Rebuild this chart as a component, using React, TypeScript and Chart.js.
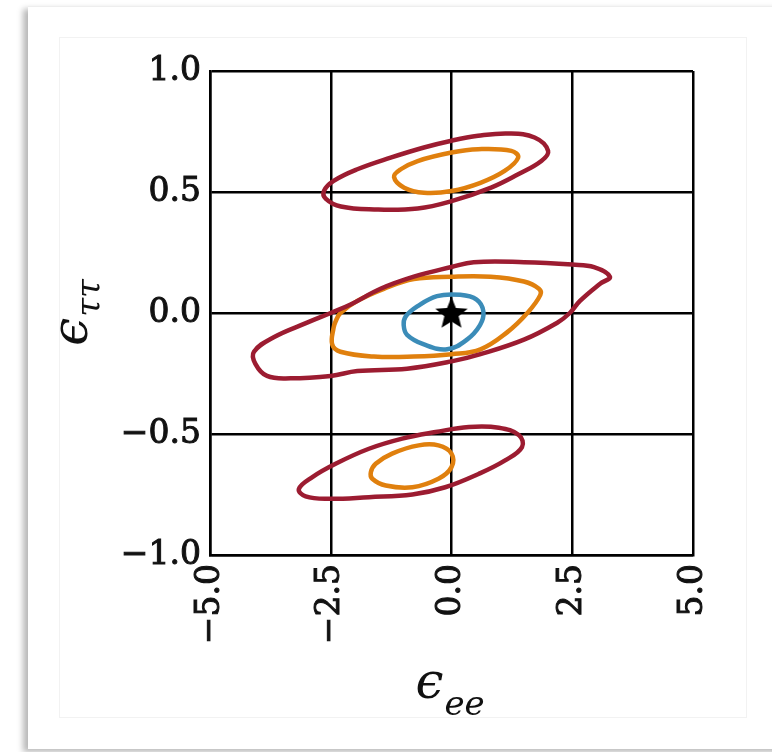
import React, { useEffect, useRef } from 'react';
import { Chart, registerables } from 'chart.js';

Chart.register(...registerables);

// Axis ticks
const xTicks = [-5, -2.5, 0, 2.5, 5];
const yTicks = [-1, -0.5, 0, 0.5, 1];

// Upper island (eps_tautau ~ +0.6)
const redTopX = [-2.64, -2.44, -1.95, -1.26, -0.57, 0.0, 0.55, 1.17, 1.72, 2.0, 1.86, 1.38, 0.82, 0.0, -0.7, -1.6, -2.29, -2.6];
const redTopY = [0.505, 0.546, 0.594, 0.642, 0.684, 0.712, 0.732, 0.742, 0.725, 0.67, 0.628, 0.573, 0.518, 0.462, 0.432, 0.428, 0.44, 0.472];
const orangeTopX = [-1.19, -1.05, -0.7, 0.0, 0.55, 1.24, 1.38, 1.1, 0.6, 0.0, -0.57, -0.98];
const orangeTopY = [0.562, 0.594, 0.628, 0.663, 0.677, 0.67, 0.642, 0.587, 0.538, 0.504, 0.497, 0.518];

// Central island
const redMidX = [-4.09, -3.68, -2.99, -2.5, -2.09, -1.47, -0.78, 0.0, 0.46, 1.5, 2.5, 2.95, 3.28, 3.07, 2.66, 2.45, 2.19, 1.5, 0.6, 0.0, -0.92, -1.95, -2.5, -3.33, -3.82, -4.06];
const redMidY = [-0.16, -0.1, -0.04, 0.0, 0.035, 0.1, 0.15, 0.19, 0.21, 0.21, 0.2, 0.19, 0.15, 0.12, 0.05, 0.0, -0.04, -0.11, -0.17, -0.2, -0.23, -0.24, -0.26, -0.27, -0.26, -0.21];
const orangeMidX = [-2.44, -2.47, -2.3, -1.61, -0.78, 0.0, 0.6, 1.15, 1.57, 1.84, 1.81, 1.5, 0.81, 0.0, -0.78, -1.4, -1.95, -2.3, -2.4];
const orangeMidY = [-0.06, -0.13, -0.16, -0.18, -0.18, -0.17, -0.15, -0.08, 0.0, 0.075, 0.1, 0.13, 0.15, 0.15, 0.14, 0.1, 0.05, 0.0, -0.035];
const blueMidX = [-0.99, -0.92, -0.57, -0.09, 0.32, 0.59, 0.66, 0.52, 0.18, -0.3, -0.71, -0.95];
const blueMidY = [-0.05, -0.09, -0.13, -0.15, -0.11, -0.05, 0.006, 0.055, 0.075, 0.07, 0.027, -0.015];

// Lower island (eps_tautau ~ -0.6)
const redLowX = [-3.16, -2.88, -2.4, -1.71, -1.02, -0.33, 0.36, 0.98, 1.4, 1.46, 1.11, 0.56, -0.13, -0.81, -1.71, -2.54, -3.02];
const redLowY = [-0.727, -0.678, -0.623, -0.561, -0.519, -0.492, -0.471, -0.474, -0.505, -0.554, -0.609, -0.665, -0.72, -0.75, -0.761, -0.768, -0.758];
const orangeLowX = [-1.67, -1.57, -1.23, -0.68, -0.27, 0.0, 0.0, -0.27, -0.81, -1.36, -1.64];
const orangeLowY = [-0.658, -0.623, -0.581, -0.547, -0.547, -0.581, -0.637, -0.685, -0.72, -0.713, -0.685];

// Best-fit / SM point
const starX = [0];
const starY = [0];

const RED = '#9c1c31';
const ORANGE = '#e0800e';
const BLUE = '#3b8cb8';

// Closed loop: wrap one point on each side so the spline is smooth at the seam;
// the two wrap segments are drawn transparent.
function loop(xs: number[], ys: number[]) {
  const n = xs.length;
  const idx = [n - 1, ...xs.map((_, i) => i), 0, 1];
  return idx.map((i) => ({ x: xs[i], y: ys[i] }));
}

function contour(xs: number[], ys: number[], color: string) {
  const data = loop(xs, ys);
  const last = data.length - 1;
  return {
    data,
    showLine: true,
    borderColor: color,
    backgroundColor: color,
    borderWidth: 4.5,
    borderJoinStyle: 'round',
    borderCapStyle: 'round',
    pointRadius: 0,
    tension: 0.4,
    fill: false,
    segment: {
      borderColor: (ctx: any) => (ctx.p0DataIndex === 0 || ctx.p1DataIndex === last ? 'rgba(0,0,0,0)' : color),
    },
  };
}

function makeStar() {
  const c = document.createElement('canvas');
  c.width = 38;
  c.height = 38;
  const g = c.getContext('2d')!;
  g.fillStyle = '#000';
  g.beginPath();
  const R = 17, r = 7.5, cx = 19, cy = 20;
  for (let i = 0; i < 10; i++) {
    const a = -Math.PI / 2 + (i * Math.PI) / 5;
    const rad = i % 2 === 0 ? R : r;
    const px = cx + rad * Math.cos(a);
    const py = cy + rad * Math.sin(a);
    if (i === 0) g.moveTo(px, py);
    else g.lineTo(px, py);
  }
  g.closePath();
  g.fill();
  return c;
}

const fmt = (v: any) => Number(v).toFixed(1).replace('-', '\u2212');

const TICK_FONT = { family: '"DejaVu Serif", serif', size: 33 };

const mathTitles = {
  id: 'mathTitles',
  afterDraw(chart: any) {
    const ctx = chart.ctx as CanvasRenderingContext2D;
    const a = chart.chartArea;
    const big = 'italic 50px "DejaVu Serif", serif';
    const small = 'italic 34px "DejaVu Serif", serif';
    ctx.save();
    ctx.fillStyle = '#111';
    ctx.textBaseline = 'alphabetic';
    ctx.textAlign = 'left';
    // x title: eps_ee
    ctx.font = big;
    const w1 = ctx.measureText('\u03f5').width;
    ctx.font = small;
    const w2 = ctx.measureText('ee').width;
    const cx = (a.left + a.right) / 2;
    const sx = cx - (w1 + w2) / 2 - 2;
    ctx.font = big;
    ctx.fillText('\u03f5', sx, a.bottom + 143);
    ctx.font = small;
    ctx.fillText('ee', sx + w1 + 1, a.bottom + 160);
    // y title: eps_tautau
    ctx.font = big;
    const v1 = ctx.measureText('\u03f5').width;
    ctx.font = small;
    const v2 = ctx.measureText('\u03c4\u03c4').width;
    const cy = (a.top + a.bottom) / 2;
    ctx.translate(a.left - 123, cy + (v1 + v2) / 2);
    ctx.rotate(-Math.PI / 2);
    ctx.font = big;
    ctx.fillText('\u03f5', 0, 0);
    ctx.font = small;
    ctx.fillText('\u03c4\u03c4', v1 + 1, 13);
    ctx.restore();
  },
};

export default function App() {
  const ref = useRef<HTMLCanvasElement>(null);
  useEffect(() => {
    const star = makeStar();
    const chart = new Chart(ref.current!, {
      type: 'scatter',
      data: {
        datasets: [
          contour(redTopX, redTopY, RED),
          contour(redMidX, redMidY, RED),
          contour(redLowX, redLowY, RED),
          contour(orangeTopX, orangeTopY, ORANGE),
          contour(orangeMidX, orangeMidY, ORANGE),
          contour(orangeLowX, orangeLowY, ORANGE),
          contour(blueMidX, blueMidY, BLUE),
          {
            data: starX.map((x, i) => ({ x, y: starY[i] })),
            showLine: false,
            pointStyle: star as any,
            pointRadius: 17,
          } as any,
        ],
      },
      options: {
        responsive: false,
        animation: false,
        devicePixelRatio: 1,
        layout: { padding: { left: 0, top: 71, right: 79, bottom: 0 } },
        plugins: { legend: { display: false }, tooltip: { enabled: false } },
        scales: {
          x: {
            type: 'linear',
            min: -5,
            max: 5,
            z: 1,
            afterBuildTicks: (s: any) => {
              s.ticks = xTicks.map((v) => ({ value: v }));
            },
            afterFit: (s: any) => {
              s.height = 197;
            },
            grid: { color: '#000', lineWidth: 2.5, drawTicks: false },
            border: { color: '#000', width: 2.5 },
            ticks: {
              font: TICK_FONT,
              color: '#111',
              textStrokeColor: '#111',
              textStrokeWidth: 1,
              padding: 9,
              minRotation: 90,
              maxRotation: 90,
              autoSkip: false,
              callback: fmt,
            },
          },
          y: {
            type: 'linear',
            min: -1,
            max: 1,
            z: 1,
            afterBuildTicks: (s: any) => {
              s.ticks = yTicks.map((v) => ({ value: v }));
            },
            afterFit: (s: any) => {
              s.width = 210;
            },
            grid: { color: '#000', lineWidth: 2.5, drawTicks: false },
            border: { color: '#000', width: 2.5 },
            ticks: {
              font: TICK_FONT,
              color: '#111',
              textStrokeColor: '#111',
              textStrokeWidth: 1,
              padding: 9,
              autoSkip: false,
              callback: fmt,
            },
          },
        },
      } as any,
      plugins: [mathTitles],
    });
    return () => chart.destroy();
  }, []);

  return (
    <div style={{ position: 'fixed', left: 0, top: 0, width: 772, height: 752, background: '#fff', overflow: 'hidden' }}>
      <div
        style={{
          position: 'absolute',
          left: 28,
          top: 6,
          width: 800,
          height: 742,
          background: '#fff',
          boxShadow: '-5px 3px 6px rgba(0,0,0,0.28)',
          borderTop: '1px solid #eee',
        }}
      />
      <div
        style={{
          position: 'absolute',
          left: 59,
          top: 37,
          width: 686,
          height: 679,
          border: '1px solid #f2f2f2',
        }}
      />
      <canvas
        ref={ref}
        width={772}
        height={752}
        style={{ position: 'absolute', left: 0, top: 0, width: 772, height: 752 }}
      />
    </div>
  );
}
